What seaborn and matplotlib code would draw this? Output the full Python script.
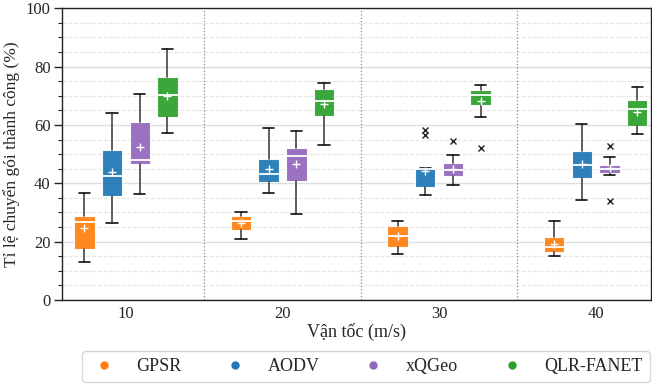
import numpy as np
import pandas as pd
import seaborn as sns
import matplotlib
matplotlib.use("Agg")
import matplotlib.pyplot as plt
from matplotlib.lines import Line2D
from matplotlib.ticker import MultipleLocator

# ---------------- data ----------------
speeds = ["10", "20", "30", "40"]
algorithms = ["GPSR", "AODV", "xQGeo", "QLR-FANET"]

# per algorithm, per speed: whisker low, Q1, median, Q3, whisker high, mean
gpsr_whislo = [12.9, 20.8, 15.7, 15.0]
gpsr_q1     = [17.4, 24.0, 18.1, 16.4]
gpsr_med    = [26.6, 27.1, 21.8, 18.3]
gpsr_q3     = [28.9, 28.9, 25.5, 21.5]
gpsr_whishi = [36.8, 30.0, 27.2, 27.1]
gpsr_mean   = [24.6, 26.4, 21.8, 19.3]

aodv_whislo = [26.5, 36.8, 35.9, 34.3]
aodv_q1     = [35.7, 40.5, 38.8, 41.8]
aodv_med    = [42.6, 43.3, 45.0, 46.3]
aodv_q3     = [51.3, 48.2, 45.4, 51.1]
aodv_whishi = [64.2, 59.1, 45.4, 60.2]
aodv_mean   = [43.9, 44.9, 44.3, 46.7]

xqgeo_whislo = [36.2, 29.6, 39.4, 42.7]
xqgeo_q1     = [46.7, 40.7, 42.5, 43.4]
xqgeo_med    = [47.9, 49.4, 44.7, 45.0]
xqgeo_q3     = [61.0, 52.1, 46.9, 46.2]
xqgeo_whishi = [70.5, 57.9, 49.8, 48.9]
xqgeo_mean   = [52.3, 46.5, 45.0, 45.2]

qlr_whislo = [57.3, 53.0, 62.9, 56.9]
qlr_q1     = [62.7, 63.0, 67.0, 59.8]
qlr_med    = [70.3, 68.2, 70.2, 65.5]
qlr_q3     = [76.3, 72.4, 71.9, 68.5]
qlr_whishi = [85.9, 74.4, 73.8, 73.0]
qlr_mean   = [70.0, 67.1, 68.2, 64.6]

# outliers
gpsr_fliers  = [[], [], [], []]
aodv_fliers  = [[], [], [56.6, 58.4], []]
xqgeo_fliers = [[], [], [54.4], [52.8, 33.9]]
qlr_fliers   = [[], [], [52.2], []]

series = {
    "GPSR": (gpsr_whislo, gpsr_q1, gpsr_med, gpsr_q3, gpsr_whishi, gpsr_mean, gpsr_fliers),
    "AODV": (aodv_whislo, aodv_q1, aodv_med, aodv_q3, aodv_whishi, aodv_mean, aodv_fliers),
    "xQGeo": (xqgeo_whislo, xqgeo_q1, xqgeo_med, xqgeo_q3, xqgeo_whishi, xqgeo_mean, xqgeo_fliers),
    "QLR-FANET": (qlr_whislo, qlr_q1, qlr_med, qlr_q3, qlr_whishi, qlr_mean, qlr_fliers),
}

# ---------------- style ----------------
sns.set_style("ticks")
plt.rcParams["font.family"] = ["Liberation Serif", "DejaVu Serif"]
plt.rcParams["mathtext.fontset"] = "stix"

palette = sns.color_palette("tab10")
colors = {"GPSR": palette[1], "AODV": palette[0], "xQGeo": palette[4], "QLR-FANET": palette[2]}

fig = plt.figure(figsize=(6.52, 3.84), dpi=100)
ax = fig.add_axes([61.7 / 652, 84 / 384, 1 - 61.7 / 652 - 0.001, (300 - 8.3) / 384])

offsets = [-0.265, -0.0885, 0.0885, 0.265]
box_w = 0.13
mean_rows = []
for k, alg in enumerate(algorithms):
    wl, q1, med, q3, wh, mean, fl = series[alg]
    stats = []
    pos = []
    for i in range(len(speeds)):
        stats.append(dict(whislo=wl[i], q1=q1[i], med=med[i], q3=q3[i], whishi=wh[i],
                          mean=mean[i], fliers=fl[i]))
        pos.append(i + offsets[k])
        mean_rows.append(dict(x=i + offsets[k], y=mean[i], alg=alg))
    ax.bxp(stats, positions=pos, widths=box_w, patch_artist=True, showmeans=False,
           boxprops=dict(facecolor=colors[alg], edgecolor="white", linewidth=0.8, alpha=0.93),
           medianprops=dict(color="white", linewidth=1.3),
           whiskerprops=dict(color="#444444", linewidth=1.2),
           capprops=dict(color="#111111", linewidth=1.2),
           capwidths=box_w * 0.55,
           flierprops=dict(marker="x", markeredgecolor="#222222", markersize=5, markeredgewidth=1.0),
           zorder=3)

means_df = pd.DataFrame(mean_rows)
sns.scatterplot(data=means_df, x="x", y="y", marker="+", color="white", s=32,
                linewidth=1.0, ax=ax, zorder=5, legend=False)

# axes cosmetics
ax.set_xlim(-0.41, 3.355)
ax.set_ylim(0, 100)
ax.set_xticks(range(len(speeds)))
ax.set_xticklabels(speeds)
ax.yaxis.set_major_locator(MultipleLocator(20))
ax.yaxis.set_minor_locator(MultipleLocator(5))
ax.tick_params(axis="x", length=0, labelsize=12, pad=4)
ax.tick_params(axis="y", which="major", length=6, width=1, labelsize=12, pad=2)
ax.tick_params(axis="y", which="minor", length=3, width=0.8)
ax.grid(axis="y", which="major", color="#dddddd", linestyle="-", linewidth=1.0, zorder=0)
ax.grid(axis="y", which="minor", color="#e6e6e6", linestyle="--", linewidth=0.8, zorder=0)
ax.set_axisbelow(True)
for b in [0.5, 1.5, 2.5]:
    ax.axvline(b, color="#888888", linestyle=":", linewidth=0.9, zorder=1)
for sp in ax.spines.values():
    sp.set_color("#222222")
    sp.set_linewidth(1.0)

ax.set_xlabel("Vận tốc (m/s)", fontsize=13, labelpad=1)
ax.set_ylabel("Tỉ lệ chuyển gói thành công (%)", fontsize=12.5, labelpad=4)

handles = [Line2D([0], [0], marker="o", linestyle="", markersize=5,
                  markerfacecolor=colors[a], markeredgecolor=colors[a]) for a in algorithms]
fig.legend(handles, algorithms, loc="lower left", ncol=4,
           bbox_to_anchor=(82 / 652, 0.004, 568 / 652, 0.08), mode="expand",
           borderaxespad=0.0,
           fontsize=13, frameon=True, fancybox=True, edgecolor="#cccccc",
           handletextpad=1.0, borderpad=0.4, handlelength=1.6)

fig.savefig("out.png", dpi=100)
